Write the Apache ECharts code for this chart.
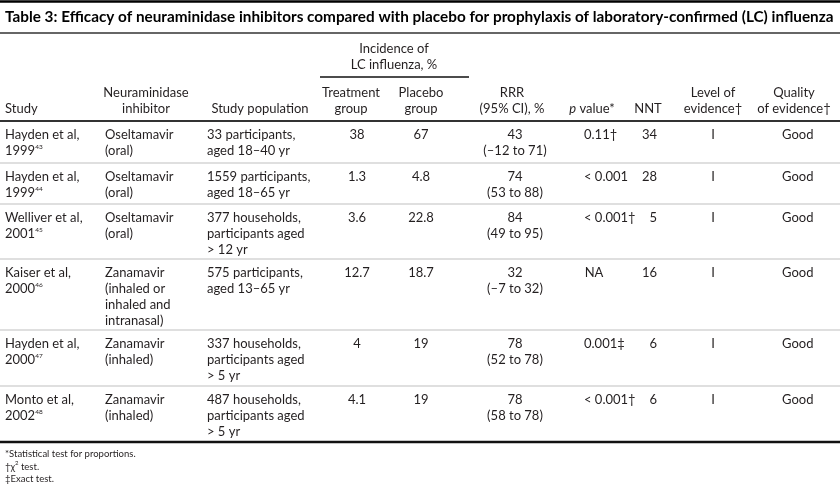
<!DOCTYPE html>
<html>
<head>
<meta charset="utf-8">
<script src="https://cdn.jsdelivr.net/npm/echarts@6/dist/echarts.min.js"></script>
<style>
html,body{margin:0;padding:0;background:#fff;}
#chart{width:840px;height:485px;}
</style>
</head>
<body>
<div id="chart"></div>
<script>
// ---------- DATA ----------
var title = "Table 3: Efficacy of neuraminidase inhibitors compared with placebo for prophylaxis of laboratory-confirmed (LC) influenza";
var spanHeader = "Incidence of\nLC influenza, %";
var headers = ["Study", "Neuraminidase\ninhibitor", "Study population", "Treatment\ngroup", "Placebo\ngroup",
  "RRR\n(95% CI), %", "{i|p} value*", "NNT", "Level of\nevidence†", "Quality\nof evidence†"];
var studies = ["Hayden et al,", "Hayden et al,", "Welliver et al,", "Kaiser et al,", "Hayden et al,", "Monto et al,"];
var years = ["1999", "1999", "2001", "2000", "2000", "2002"];
var refs = ["43", "44", "45", "46", "47", "48"];
var inhibitors = ["Oseltamavir\n(oral)", "Oseltamavir\n(oral)", "Oseltamavir\n(oral)",
  "Zanamavir\n(inhaled or\ninhaled and\nintranasal)", "Zanamavir\n(inhaled)", "Zanamavir\n(inhaled)"];
var populations = ["33 participants,\naged 18–40 yr", "1559 participants,\naged 18–65 yr",
  "377 households,\nparticipants aged\n> 12 yr", "575 participants,\naged 13–65 yr",
  "337 households,\nparticipants aged\n> 5 yr", "487 households,\nparticipants aged\n> 5 yr"];
var treatment = ["38", "1.3", "3.6", "12.7", "4", "4.1"];
var placebo = ["67", "4.8", "22.8", "18.7", "19", "19"];
var rrr = ["43", "74", "84", "32", "78", "78"];
var rrrCI = ["(–12 to 71)", "(53 to 88)", "(49 to 95)", "(–7 to 32)", "(52 to 78)", "(58 to 78)"];
var pValues = ["0.11†", "< 0.001", "< 0.001†", "NA", "0.001‡", "< 0.001†"];
var nnt = ["34", "28", "5", "16", "6", "6"];
var levels = ["I", "I", "I", "I", "I", "I"];
var quality = ["Good", "Good", "Good", "Good", "Good", "Good"];
var footnotes = ["*Statistical test for proportions.", "†χ{sup2|2} test.", "‡Exact test."];

// ---------- LAYOUT ----------
var FONT = "Lato, 'Open Sans', sans-serif";
var TXT = "#231f20";
var colX =      [5, 105, 207, 357, 421, 515, 584, 657, 713, 782];
var colAlign =  ["left","left","left","center","center","center","left","right","center","left"];
var headX =     [5, 146, 260, 351, 421, 512, 592, 648, 713, 794];
var headAlign = ["left","center","center","center","center","center","center","center","center","center"];
var rowBounds = [121, 163, 204, 259, 330, 386, 442];
var LH = 16;

// build cells
var cells = [];
headers.forEach(function (h, c) {
  var n = h.split("\n").length;
  cells.push({ value: [headX[c], 117 - n * LH], text: h, align: headAlign[c], size: 13 });
});
cells.push({ value: [394, 41], text: spanHeader, align: "center", size: 13 });
cells.push({ value: [5, 9.5], text: title, align: "left", size: 15.3, bold: true, color: "#000" });
for (var r = 0; r < studies.length; r++) {
  var rowTop = rowBounds[r] + 6;
  var rowText = [
    studies[r] + "\n" + years[r] + "{sup|" + refs[r] + "}",
    inhibitors[r], populations[r], treatment[r], placebo[r],
    rrr[r] + "\n" + rrrCI[r], pValues[r], nnt[r], levels[r], quality[r]
  ];
  rowText.forEach(function (t, c) {
    var x = colX[c], al = colAlign[c];
    if (c === 6 && t === "NA") { x = 594; al = "center"; }
    cells.push({ value: [x, rowTop], text: t, align: al, size: 13 });
  });
}
footnotes.forEach(function (f, i) {
  cells.push({ value: [5, 448 + i * 12.5], text: f, align: "left", size: 9.5, lh: 12.5 });
});

// rules: [x1, x2, y, width, color]
var rules = [
  [0, 840, 1.5, 2.5, "#000"],
  [0, 840, 33, 2, "#666"],
  [320, 469, 77, 1.5, "#111"],
  [0, 840, 121, 2, "#333"],
  [0, 840, 163, 1.5, "#d4d4d4"],
  [0, 840, 204, 1.5, "#d4d4d4"],
  [0, 840, 259, 1.5, "#d4d4d4"],
  [0, 840, 330, 1.5, "#d4d4d4"],
  [0, 840, 386, 1.5, "#d4d4d4"],
  [0, 840, 442, 2.5, "#111"]
];

var chart = echarts.init(document.getElementById("chart"), null, { renderer: "canvas" });
chart.setOption({
  animation: false,
  backgroundColor: "#fff",
  grid: { left: 0, right: 0, top: 0, bottom: 0 },
  xAxis: { type: "value", min: 0, max: 840, show: false },
  yAxis: { type: "value", min: 0, max: 485, inverse: true, show: false },
  series: [
    {
      type: "custom",
      data: rules.map(function (r) { return { value: [r[0], r[2]] }; }),
      renderItem: function (params, api) {
        var r = rules[params.dataIndex];
        var p1 = api.coord([r[0], r[2]]), p2 = api.coord([r[1], r[2]]);
        return { type: "line", shape: { x1: p1[0], y1: p1[1], x2: p2[0], y2: p2[1] },
          style: { stroke: r[4], lineWidth: r[3] } };
      }
    },
    {
      type: "custom",
      data: cells.map(function (c) { return { value: c.value }; }),
      renderItem: function (params, api) {
        var c = cells[params.dataIndex];
        var p = api.coord(c.value);
        var lh = c.lh || LH;
        return {
          type: "text", x: p[0], y: p[1],
          style: {
            text: c.text, align: c.align, verticalAlign: "top",
            fontFamily: FONT, fontSize: c.size, fontWeight: c.bold ? "bold" : "normal",
            lineHeight: lh, fill: c.color || TXT,
            rich: {
              sup: { fontSize: 6.5, verticalAlign: "top", lineHeight: lh, fontFamily: FONT, fill: TXT },
              sup2: { fontSize: 6, verticalAlign: "top", lineHeight: lh, fontFamily: FONT, fill: TXT },
              i: { fontStyle: "italic", fontSize: 13, lineHeight: lh, fontFamily: FONT, fill: TXT }
            }
          }
        };
      }
    }
  ]
});
</script>
</body>
</html>
